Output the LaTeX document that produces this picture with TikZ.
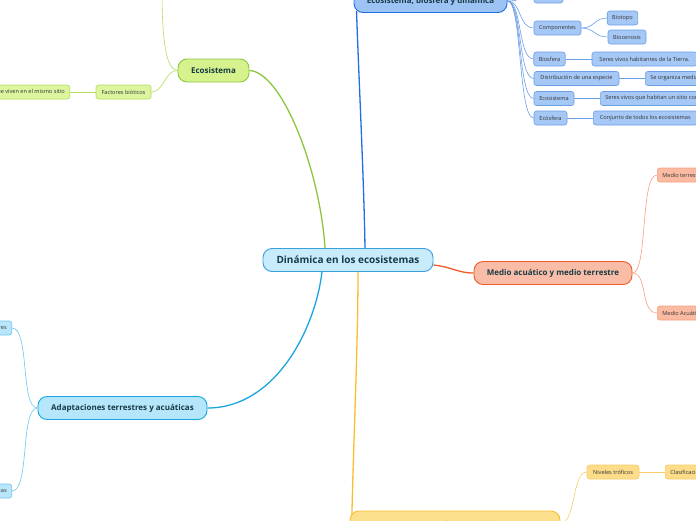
\documentclass[tikz,border=0pt]{standalone}
\usepackage{fontspec}
\setmainfont{Open Sans}
\usetikzlibrary{backgrounds}
\definecolor{txtmain}{HTML}{173A45}
\definecolor{txtsub}{HTML}{333333}
\definecolor{cfill}{HTML}{C8ECFC}\definecolor{cdraw}{HTML}{3B9FE0}
\definecolor{gfill}{HTML}{D5F28D}\definecolor{gdraw}{HTML}{8CC63F}
\definecolor{gsfill}{HTML}{DCF59E}\definecolor{gsdraw}{HTML}{B3DD5A}
\definecolor{bfill}{HTML}{9DC3F5}\definecolor{bdraw}{HTML}{1F6FE0}
\definecolor{bsfill}{HTML}{A6C8F6}\definecolor{bsdraw}{HTML}{6D9FE6}
\definecolor{rfill}{HTML}{F9BDA7}\definecolor{rdraw}{HTML}{F05A28}
\definecolor{rsfill}{HTML}{FBBBA3}\definecolor{rsdraw}{HTML}{F5A080}
\definecolor{afill}{HTML}{B5E6FB}\definecolor{adraw}{HTML}{1AA5E0}
\definecolor{asfill}{HTML}{B9E6FB}\definecolor{asdraw}{HTML}{6CC6EE}
\definecolor{yfill}{HTML}{FDE08E}\definecolor{ydraw}{HTML}{FBBD2E}
\definecolor{ysfill}{HTML}{FDDC8A}\definecolor{ysdraw}{HTML}{F8CD6A}
\tikzset{
  mainnode/.style={draw, line width=0.9pt, rounded corners=9pt, minimum height=23pt, inner sep=0pt, font=\fontsize{8}{9}\selectfont\bfseries, text=txtmain},
  centernode/.style={mainnode, font=\fontsize{10}{11}\selectfont\bfseries},
  subnode/.style={draw, line width=0.6pt, rounded corners=2.5pt, minimum height=14pt, inner ysep=0pt, inner xsep=5pt, font=\fontsize{5.6}{6}\selectfont, text=txtsub},
  mainline/.style={line width=1.3pt},
  subline/.style={line width=0.6pt},
}
\begin{document}
\begin{tikzpicture}[x=1pt,y=-1pt]
\useasboundingbox (0,0) rectangle (696,520);
\clip (0,0) rectangle (696,520);
% main nodes
\node[centernode, fill=cfill, draw=cdraw, minimum width=170pt] (ctr) at (348,260) {Dinámica en los ecosistemas};
\node[mainnode, fill=gfill, draw=gdraw, minimum width=71pt] (eco) at (213.5,70.5) {Ecosistema};
\node[mainnode, fill=bfill, draw=bdraw, minimum width=153pt] (ebd) at (430.5,1) {Ecosistema, biosfera y dinámica};
\node[mainnode, fill=rfill, draw=rdraw, minimum width=158pt] (med) at (553,273) {Medio acuático y medio terrestre};
\node[mainnode, fill=afill, draw=adraw, minimum width=169pt] (ada) at (122.5,408) {Adaptaciones terrestres y acuáticas};
\node[mainnode, fill=yfill, draw=ydraw, minimum width=210pt, minimum height=26pt] (des) at (455,524) {Desarrollo sostenible};

% green group
\node[subnode, fill=gsfill, draw=gsdraw, minimum width=55pt] (fbio) at (123.5,92) {Factores bióticos};
\node[subnode, fill=gsfill, draw=gsdraw, anchor=east] (fbtxt) at (70,92) {Seres vivos que viven en el mismo sitio};
\coordinate (ecoup) at (162,-10);

% blue group
\node[subnode, fill=bsfill, draw=bsdraw, minimum width=29pt] (b0) at (548.5,-4) {};
\node[subnode, fill=bsfill, draw=bsdraw, minimum width=47pt] (comp) at (557.5,28) {Componentes};
\node[subnode, fill=bsfill, draw=bsdraw, minimum width=29pt] (biot) at (622.5,18) {Biotopo};
\node[subnode, fill=bsfill, draw=bsdraw, minimum width=38pt] (bioc) at (627,37) {Biocenosis};
\node[subnode, fill=bsfill, draw=bsdraw, minimum width=31pt] (bios) at (549.5,59) {Biosfera};
\node[subnode, fill=bsfill, draw=bsdraw, minimum width=105pt] (biost) at (644.5,59) {Seres vivos habitantes de la Tierra.};
\node[subnode, fill=bsfill, draw=bsdraw, minimum width=85pt] (dist) at (576.5,78.5) {Distribución de una especie};
\node[subnode, fill=bsfill, draw=bsdraw, anchor=west] (distt) at (645,78.5) {Se organiza mediante};
\node[subnode, fill=bsfill, draw=bsdraw, minimum width=40pt] (ecos) at (554,98.5) {Ecosistema};
\node[subnode, fill=bsfill, draw=bsdraw, anchor=west] (ecost) at (600,98.5) {Seres vivos que habitan un sitio común};
\node[subnode, fill=bsfill, draw=bsdraw, minimum width=33pt] (ecof) at (550.5,118) {Ecósfera};
\node[subnode, fill=bsfill, draw=bsdraw, anchor=west, minimum width=104pt] (ecoft) at (593,118) {Conjunto de todos los ecosistemas};

% salmon group
\node[subnode, fill=rsfill, draw=rsdraw, anchor=west] (mter) at (657,175) {Medio terrestre};
\node[subnode, fill=rsfill, draw=rsdraw, anchor=west] (macu) at (657,313) {Medio Acuático};

% cyan group
\node[subnode, fill=asfill, draw=asdraw, anchor=east] (ater) at (12,328) {Adaptaciones terrestres};
\node[subnode, fill=asfill, draw=asdraw, anchor=east] (aacu) at (12,491) {Adaptaciones acuáticas};

% yellow group
\node[subnode, fill=ysfill, draw=ysdraw, minimum width=52pt] (niv) at (613,472) {Niveles tróficos};
\node[subnode, fill=ysfill, draw=ysdraw, anchor=west] (clas) at (665,472) {Clasificación};

\begin{scope}[on background layer]
% main branches
\draw[mainline, gdraw] ([xshift=-23pt]ctr.north) .. controls (320,170) and (282,72) .. (eco.east);
\draw[mainline, bdraw] ([xshift=17pt]ctr.north) .. controls (364,180) and (358,60) .. ([xshift=3pt,yshift=-10pt]ebd.west);
\draw[mainline, rdraw] ([yshift=-5pt]ctr.east) .. controls (452,267) and (458,273) .. (med.west);
\draw[mainline, adraw] ([xshift=-26pt]ctr.south) .. controls (315,330) and (275,408) .. (ada.east);
\draw[mainline, ydraw] ([xshift=10pt]ctr.south) .. controls (358,350) and (353,450) .. ([xshift=2pt,yshift=-8pt]des.west);
% green
\draw[subline, gsdraw] (eco.west) .. controls (166,70) and (162,40) .. (ecoup);
\draw[subline, gsdraw] (eco.west) .. controls (165,70) and (164,92) .. (fbio.east);
\draw[subline, gsdraw] (fbio.west) -- (fbtxt.east);
% blue
\draw[subline, bsdraw] (ebd.east) .. controls (522,1) and (520,-4) .. (b0.west);
\draw[subline, bsdraw] (ebd.east) .. controls (522,1) and (518,28) .. (comp.west);
\draw[subline, bsdraw] (ebd.east) .. controls (522,1) and (518,59) .. (bios.west);
\draw[subline, bsdraw] (ebd.east) .. controls (522,1) and (518,78.5) .. (dist.west);
\draw[subline, bsdraw] (ebd.east) .. controls (522,1) and (518,98.5) .. (ecos.west);
\draw[subline, bsdraw] (ebd.east) .. controls (522,1) and (518,118) .. (ecof.west);
\draw[subline, bsdraw] (comp.east) .. controls (595,28) and (594,18) .. (biot.west);
\draw[subline, bsdraw] (comp.east) .. controls (595,28) and (594,37) .. (bioc.west);
\draw[subline, bsdraw] (bios.east) -- (biost.west);
\draw[subline, bsdraw] (dist.east) -- (distt.west);
\draw[subline, bsdraw] (ecos.east) -- (ecost.west);
\draw[subline, bsdraw] (ecof.east) -- (ecoft.west);
% salmon
\draw[subline, rsdraw] (med.east) .. controls (648,273) and (640,175) .. (mter.west);
\draw[subline, rsdraw] (med.east) .. controls (648,273) and (640,313) .. (macu.west);
% cyan
\draw[subline, asdraw] (ada.west) .. controls (20,408) and (30,328) .. (ater.east);
\draw[subline, asdraw] (ada.west) .. controls (20,408) and (30,491) .. (aacu.east);
% yellow
\draw[subline, ysdraw] (des.east) .. controls (576,522) and (572,472) .. (niv.west);
\draw[subline, ysdraw] (niv.east) -- (clas.west);
\end{scope}
\end{tikzpicture}
\end{document}
